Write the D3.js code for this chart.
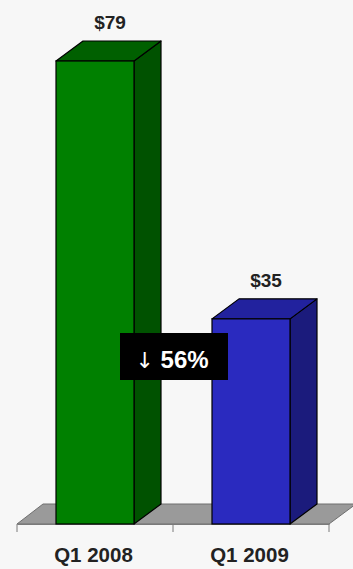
<!DOCTYPE html>
<html>
<head>
<meta charset="utf-8">
<script src="https://cdn.jsdelivr.net/npm/d3@7"></script>
<style>
  html, body { margin: 0; padding: 0; background: #f7f7f7; }
  svg { display: block; }
</style>
</head>
<body>
<svg id="chart" width="353" height="569"></svg>
<script>
// Quarterly values (in dollars)
const categories = ["Q1 2008", "Q1 2009"];
const values = [79, 35];
const valueLabels = ["$79", "$35"];
const changeArrow = "\u2193";
const changeLabel = "56%";

// Face colours per bar: front, top, side
const frontColors = ["#008000", "#2a2abf"];
const topColors = ["#006000", "#22229e"];
const sideColors = ["#005200", "#1b1b7c"];

const width = 353, height = 569;
const depthX = 27, depthY = 20;
const baseY = 524;
const font = "Liberation Sans, Arial, sans-serif";

const svg = d3.select("#chart");

const x = d3.scaleBand().domain(categories).range([17, 329]).paddingInner(0).paddingOuter(0);
const y = d3.scaleLinear().domain([0, 79]).range([baseY, 61]);

const barW = x.bandwidth() * 0.5;

// Floor slab
const fx0 = x.range()[0], fx1 = x.range()[1];
svg.append("path")
  .attr("d", `M${fx0},${baseY} L${fx0 + depthX - 1},${baseY - depthY} L${fx1 + depthX},${baseY - depthY} L${fx1},${baseY} Z`)
  .attr("fill", "#9a9a9a")
  .attr("stroke", "#6f6f6f")
  .attr("stroke-width", 1);

// Category axis
const axis = d3.axisBottom(x).tickSize(0).tickPadding(0);
const axisG = svg.append("g").attr("transform", `translate(0,${baseY})`).call(axis);
axisG.select(".domain").attr("stroke", "#7a7a7a");
axisG.selectAll(".tick text").remove();
// Tick marks at band boundaries
const boundaries = [x.range()[0], ...categories.map(c => x(c) + x.bandwidth())];
axisG.selectAll("line.bound").data(boundaries).enter().append("line")
  .attr("class", "bound")
  .attr("x1", d => d).attr("x2", d => d)
  .attr("y1", 0).attr("y2", 8)
  .attr("stroke", "#7a7a7a");

svg.append("g").selectAll("text").data(categories).enter().append("text")
  .attr("x", d => x(d) + x.bandwidth() / 2 - 1.5)
  .attr("y", 562)
  .attr("text-anchor", "middle")
  .attr("font-family", font)
  .attr("font-weight", "bold")
  .attr("font-size", 20.5)
  .attr("fill", "#222")
  .text(d => d);

// 3D bars
const bars = svg.append("g").selectAll("g").data(categories).enter().append("g");
bars.each(function(c, i) {
  const g = d3.select(this);
  const x0 = x(c) + (x.bandwidth() - barW) / 2;
  const x1 = x0 + barW;
  const yt = y(values[i]);
  // side face
  g.append("path")
    .attr("d", `M${x1},${yt} L${x1 + depthX},${yt - depthY} L${x1 + depthX},${baseY - depthY} L${x1},${baseY} Z`)
    .attr("fill", sideColors[i]).attr("stroke", "#000").attr("stroke-width", 1.2).attr("stroke-linejoin", "round");
  // top face
  g.append("path")
    .attr("d", `M${x0},${yt} L${x0 + depthX},${yt - depthY} L${x1 + depthX},${yt - depthY} L${x1},${yt} Z`)
    .attr("fill", topColors[i]).attr("stroke", "#000").attr("stroke-width", 1.2).attr("stroke-linejoin", "round");
  // front face
  g.append("rect")
    .attr("x", x0).attr("y", yt).attr("width", barW).attr("height", baseY - yt)
    .attr("fill", frontColors[i]).attr("stroke", "#000").attr("stroke-width", 1.2);
  // value label
  g.append("text")
    .attr("x", x0 + barW / 2 + depthX / 2 + 1.5)
    .attr("y", yt - 32)
    .attr("text-anchor", "middle")
    .attr("font-family", font)
    .attr("font-weight", "bold")
    .attr("font-size", 19)
    .attr("fill", "#222")
    .text(valueLabels[i]);
});

// Change annotation
const boxCx = x.range()[0] + x.bandwidth();
const ann = svg.append("g");
ann.append("rect")
  .attr("x", boxCx - 53).attr("y", 333).attr("width", 108).attr("height", 47)
  .attr("fill", "#000");
const annText = ann.append("text")
  .attr("x", boxCx - 1).attr("y", 368)
  .attr("text-anchor", "middle")
  .attr("font-family", font)
  .attr("font-weight", "bold")
  .attr("font-size", 24)
  .attr("fill", "#fff");
annText.append("tspan")
  .attr("font-family", "DejaVu Sans, sans-serif")
  .attr("font-weight", "normal")
  .attr("font-size", 22)
  .text(changeArrow);
annText.append("tspan").text("\u00a0" + changeLabel);
</script>
</body>
</html>
